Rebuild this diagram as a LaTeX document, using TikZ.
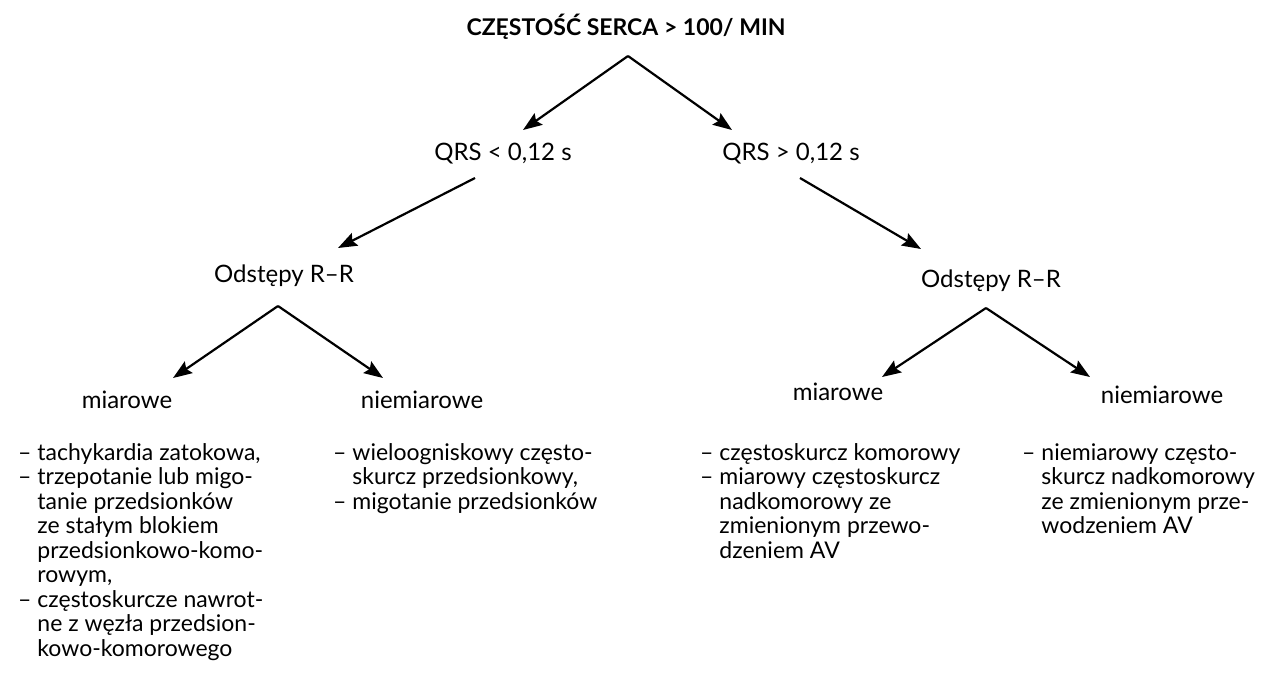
\documentclass[tikz,border=0pt]{standalone}
\usepackage{fontspec}
\setmainfont{Lato}
\usetikzlibrary{arrows.meta}

\begin{document}
\begin{tikzpicture}[
        x=1pt, y=-1pt,
        lbl/.style={inner sep=0pt, anchor=base, font=\fontsize{24}{26}\selectfont},
        lst/.style={inner sep=0pt, anchor=north west, align=left, font=\fontsize{23}{24.5}\selectfont},
        arr/.style={line width=2.2pt, -{Stealth[length=19pt,width=14pt,inset=3pt]}}
    ]
    \useasboundingbox (0,0) rectangle (1280,694);
    % poziom 1
    \node[lbl, font=\fontsize{23}{24}\selectfont\bfseries] (top) at (626,35) {CZĘSTOŚĆ SERCA > 100/ MIN};
    % poziom 2
    \node[lbl] (qrsL) at (503,160) {QRS < 0,12 s};
    \node[lbl] (qrsR) at (791,160) {QRS > 0,12 s};
    % poziom 3
    \node[lbl] (rrL) at (284,282) {Odstępy R--R};
    \node[lbl] (rrR) at (991,287) {Odstępy R--R};
    % poziom 4
    \node[lbl] (miarL) at (127,408) {miarowe};
    \node[lbl] (niemL) at (422,408) {niemiarowe};
    \node[lbl] (miarR) at (838,400) {miarowe};
    \node[lbl] (niemR) at (1162,403) {niemiarowe};
    % listy
    \node[lst] (lista) at (18,443) {\strut-- tachykardia zatokowa,\\
        -- trzepotanie lub migo-\\
        \phantom{-- }tanie przedsionków\\
        \phantom{-- }ze stałym blokiem\\
        \phantom{-- }przedsionkowo-komo-\\
        \phantom{-- }rowym,\\
        -- częstoskurcze nawrot-\\
        \phantom{-- }ne z węzła przedsion-\\
        \phantom{-- }kowo-komorowego};
    \node[lst] (listb) at (333,443) {\strut-- wieloogniskowy często-\\
        \phantom{-- }skurcz przedsionkowy,\\
        -- migotanie przedsionków};
    \node[lst] (listc) at (700,443) {\strut-- częstoskurcz komorowy\\
        -- miarowy częstoskurcz\\
        \phantom{-- }nadkomorowy ze\\
        \phantom{-- }zmienionym przewo-\\
        \phantom{-- }dzeniem AV};
    \node[lst] (listd) at (1022,443) {\strut-- niemiarowy często-\\
        \phantom{-- }skurcz nadkomorowy\\
        \phantom{-- }ze zmienionym prze-\\
        \phantom{-- }wodzeniem AV};
    % punkty strzalek
    \coordinate (s0) at (628,56);
    \coordinate (s1) at (475,178);
    \coordinate (s2) at (800,178);
    \coordinate (s3) at (278,306);
    \coordinate (s4) at (986,308);
    \coordinate (e1) at (338,248);
    \coordinate (e2) at (921,249);
    \coordinate (t0) at (523,130);
    \coordinate (t1) at (732,130);
    \coordinate (t2) at (173,378);
    \coordinate (t3) at (383,378);
    \coordinate (t4) at (882,377);
    \coordinate (t5) at (1090,377);
    \draw[arr] (s0) -- (t0);
    \draw[arr] (s0) -- (t1);
    \draw[arr] (s1) -- (e1);
    \draw[arr] (s2) -- (e2);
    \draw[arr] (s3) -- (t2);
    \draw[arr] (s3) -- (t3);
    \draw[arr] (s4) -- (t4);
    \draw[arr] (s4) -- (t5);
\end{tikzpicture}
\end{document}
